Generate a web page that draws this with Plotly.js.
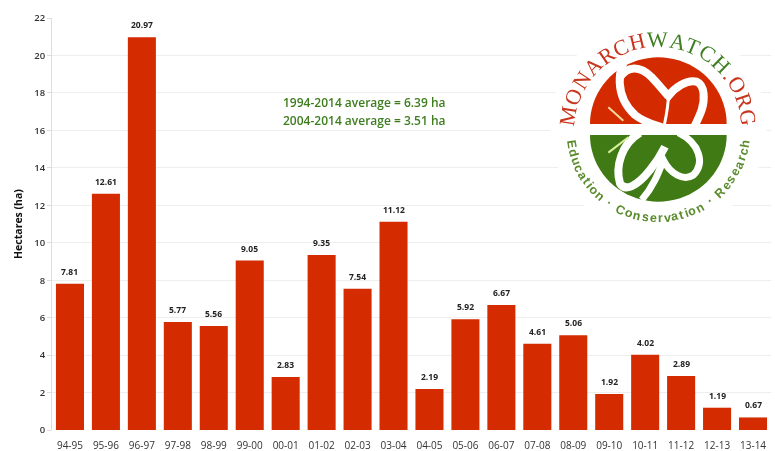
<!DOCTYPE html>
<html><head><meta charset="utf-8">
<script src="https://cdn.plot.ly/plotly-3.0.1.min.js"></script>
<style>html,body{margin:0;padding:0;background:#fff}#c{width:775px;height:451px;filter:blur(0.6px)}</style>
</head><body><div id="c"></div>
<script>
const seasons=["94-95","95-96","96-97","97-98","98-99","99-00","00-01","01-02","02-03","03-04","04-05","05-06","06-07","07-08","08-09","09-10","10-11","11-12","12-13","13-14"];
const hectares=[7.81,12.61,20.97,5.77,5.56,9.05,2.83,9.35,7.54,11.12,2.19,5.92,6.67,4.61,5.06,1.92,4.02,2.89,1.19,0.67];
const yTicks=[0,2,4,6,8,10,12,14,16,18,20,22];
const averageNotes=["1994-2014 average = 6.39 ha","2004-2014 average = 3.51 ha"];
const logoTop=[["MONARCH","#c8341c"],["WATCH","#3f7f22"],[".ORG","#c8341c"]];
const logoBottom="Education \u00b7 Conservation \u00b7 Research";

const W=775,H=451,M={l:52,r:4,t:18,b:21};
const px=x=>(x-M.l)/(W-M.l-M.r), py=y=>1-(y-M.t)/(H-M.t-M.b);
// logo sketch coordinates: 3x grid with origin at (540,0)
const lx=z=>px(540+z/3), ly=z=>py(z/3);
function P(s){return s.replace(/(-?\d+\.?\d*) (-?\d+\.?\d*)/g,(m,a,b)=>lx(+a).toFixed(5)+" "+ly(+b).toFixed(5));}
function shape(path,fill,line,w){return {type:"path",xref:"paper",yref:"paper",layer:"above",path:P(path),
  fillcolor:fill||"rgba(0,0,0,0)",line:{color:line||"rgba(0,0,0,0)",width:w||0}};}
const R=205,cx=355;
function arc(yBase,sign,col){let s="M 150 "+yBase;for(let i=0;i<=40;i++){const a=Math.PI*(1-i/40);
  s+=" L "+(cx+R*Math.cos(a)).toFixed(1)+" "+(yBase-sign*200*Math.sin(a)).toFixed(1);}return shape(s+" Z",col);}
const shapes=[
 {type:"circle",xref:"paper",yref:"paper",layer:"above",x0:lx(30),x1:lx(680),y0:ly(705),y1:ly(55),fillcolor:"#fff",line:{width:0}},
 arc(372,1,"#d32a00"),arc(405,-1,"#3f7a14"),
 // white ribbon, upper half
 shape("M 270 160 C 228 205 225 290 285 345 C 310 365 335 372 365 382","", "#fff",8),
 shape("M 240 232 C 262 198 300 195 335 232 C 360 258 375 278 385 288 C 405 262 440 238 470 245 C 495 255 495 300 485 330 C 478 350 470 365 462 382","", "#fff",8),
 shape("M 385 288 C 385 320 378 350 372 380","", "#fff",3),
 // antenna upper
 shape("M 205 322 L 250 362","", "#f4d9a0",2),
 // white ribbon, lower half
 shape("M 300 398 C 245 430 225 500 240 550 C 255 575 290 560 330 510 C 350 485 365 460 375 440","", "#fff",8),
 shape("M 415 398 C 480 430 495 490 460 525 C 430 545 390 520 370 480 C 355 520 340 560 305 600","", "#fff",7),
 // antenna lower
 shape("M 205 458 L 265 412","", "#d7ee9a",2)
];
const fontMain="Open Sans, Liberation Sans, sans-serif";
const annotations=[];
hectares.forEach((v,i)=>annotations.push({x:seasons[i],y:v,text:v.toFixed(2),showarrow:false,yanchor:"bottom",yshift:5,
  font:{family:fontMain,size:8.5,color:"#222",weight:700}}));
averageNotes.forEach((t,i)=>annotations.push({xref:"paper",yref:"paper",x:px(364),y:py(102+i*18),text:t,showarrow:false,
  font:{family:fontMain,size:12,color:"#3d7d1e",weight:600},xanchor:"center",yanchor:"middle"}));
// text set on a circle, one glyph at a time
const cv=document.createElement("canvas").getContext("2d");
function ring(chars,font,size,r,dir,extra){
  cv.font=size+"px "+font;
  const w=chars.map(c=>cv.measureText(c.ch).width+extra);
  const total=w.reduce((a,b)=>a+b,0);let pos=-total/2;
  chars.forEach((c,i)=>{const mid=pos+w[i]/2;pos+=w[i];const th=mid/r;
    const sx=658+r*Math.sin(th),sy=130-dir*r*Math.cos(th);
    annotations.push({xref:"paper",yref:"paper",x:px(sx),y:py(sy),text:c.ch,showarrow:false,textangle:dir*th*180/Math.PI,
      font:{family:font,size:size,color:c.col,weight:dir>0?400:600},xanchor:"center",yanchor:"middle"});});
}
const topChars=[];logoTop.forEach(([s,col])=>[...s].forEach(ch=>topChars.push({ch,col})));
ring(topChars,"Liberation Serif",22,91,1,2.1);
ring([...logoBottom].map(ch=>({ch,col:"#5a8c2c"})),"Liberation Sans",12.5,88,-1,1.5);

Plotly.newPlot("c",[{type:"bar",x:seasons,y:hectares,marker:{color:"#d42b00"},hoverinfo:"x+y"}],{
  width:W,height:H,margin:{l:M.l,r:M.r,t:M.t,b:M.b,pad:0},paper_bgcolor:"#fff",plot_bgcolor:"#fff",bargap:0.22,showlegend:false,
  font:{family:fontMain,size:9,color:"#222"},
  xaxis:{type:"category",categoryorder:"array",categoryarray:seasons,range:[-0.5,19.5],showgrid:false,zeroline:false,showline:false,ticks:"outside",ticklen:6,tickcolor:"rgba(0,0,0,0)",
    tickfont:{size:10,color:"#333",weight:500},automargin:false},
  yaxis:{range:[0,22],tickvals:yTicks,ticktext:yTicks.map(String),showgrid:true,gridcolor:"#eeeeee",gridwidth:1,zeroline:false,
    showline:true,linecolor:"#dddddd",ticks:"outside",ticklen:4,tickcolor:"#dddddd",tickfont:{size:9.5,color:"#333",weight:600},
    title:{text:"Hectares (ha)",font:{size:10.5,color:"#111",weight:700},standoff:9},automargin:false},
  shapes,annotations
},{displayModeBar:false,responsive:false,staticPlot:true});
</script></body></html>
